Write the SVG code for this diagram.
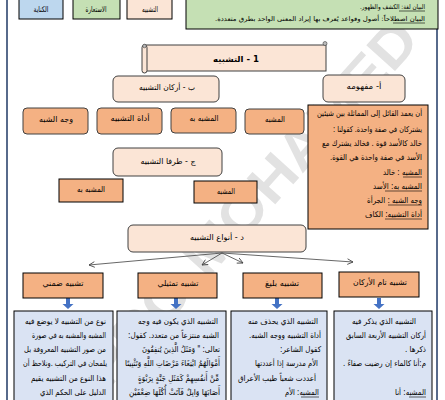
<svg xmlns="http://www.w3.org/2000/svg" width="445" height="400" viewBox="0 0 445 400">
<style>
.t{font-family:"DejaVu Sans","Noto Sans",sans-serif;font-size:8px;fill:#000}
.g{font-size:6.5px}
.pe{fill:#fbe5d6;stroke:#404040;stroke-width:1}
.or{fill:#f4b183;stroke:#404040;stroke-width:1}
.os{fill:#f4b183;stroke:#000;stroke-width:1}
.bl{fill:#dae3f3;stroke:#000;stroke-width:1}
.cn{stroke:#404040;stroke-width:0.8;fill:none}
.ba{fill:#4472c4}
.ul{stroke:#000;stroke-width:0.6}
</style>
<defs>
<marker id="ah" viewBox="0 0 10 10" refX="9" refY="5" markerWidth="7" markerHeight="7" orient="auto" markerUnits="userSpaceOnUse">
<path d="M1,1 L9,5 L1,9" fill="none" stroke="#404040" stroke-width="1.2"/>
</marker>
</defs>
<rect width="445" height="400" fill="#fff"/>
<text transform="translate(250,203) rotate(-48)" text-anchor="middle" dominant-baseline="central" font-family="Liberation Sans" font-weight="bold" font-size="56" fill="#d6d6d6" opacity="0.7" textLength="470" lengthAdjust="spacingAndGlyphs">PRO MOHAMED</text>
<line x1="7" y1="0" x2="7" y2="400" stroke="#1f3864" stroke-width="1.5"/>
<line x1="437" y1="0" x2="437" y2="400" stroke="#1f3864" stroke-width="1.5"/>

<g id="top-kinaya"><rect x="19" y="-1" width="44" height="20" fill="#bdd7ee" stroke="#000"/><text class="t" x="41" y="12" text-anchor="middle" direction="rtl" textLength="15" lengthAdjust="spacingAndGlyphs">الكناية</text></g>
<g id="top-istiara"><rect x="73" y="-1" width="47" height="20" fill="#c5e0b4" stroke="#000"/><text class="t" x="96" y="12" text-anchor="middle" direction="rtl" textLength="21" lengthAdjust="spacingAndGlyphs">الاستعارة</text></g>
<g id="top-tashbih"><rect x="127" y="-1" width="45" height="20" fill="#fbe5d6" stroke="#000"/><text class="t" x="150" y="12" text-anchor="middle" direction="rtl" textLength="16" lengthAdjust="spacingAndGlyphs">التشبيه</text></g>
<g id="bayan"><rect x="186" y="-1" width="252" height="30" fill="#c5e0b4" stroke="#000"/>
<text class="t g" x="425" y="9" direction="rtl" text-anchor="start" textLength="65" lengthAdjust="spacingAndGlyphs">البيان لغة: الكشف والظهور.</text>
<line class="ul" x1="399" y1="11" x2="425" y2="11"/>
<text class="t g" x="425" y="21" direction="rtl" text-anchor="start" textLength="210" lengthAdjust="spacingAndGlyphs">البيان اصطلاحاً: أصول وقواعد يُعرف بها إيراد المعنى الواحد بطرق متعددة.</text>
<line class="ul" x1="393" y1="23" x2="425" y2="23"/></g>

<g id="title">
<rect x="144" y="45" width="182" height="26" class="pe"/>
<rect x="142" y="45" width="5" height="28" rx="2.5" class="pe"/>
<circle cx="144.5" cy="46" r="1.8" fill="#bbb" stroke="#404040" stroke-width="0.6"/>
<circle cx="325" cy="43.5" r="2" fill="#bbb" stroke="#404040" stroke-width="0.6"/>
<text class="t" x="236" y="61.5" text-anchor="middle" direction="rtl" font-weight="bold" font-size="9.5" textLength="46" lengthAdjust="spacingAndGlyphs">1 - التشبيه</text></g>

<g id="mafhoom"><rect x="323" y="75" width="82" height="27" rx="5" class="pe"/><text class="t" x="364" y="89" text-anchor="middle" direction="rtl" textLength="35" lengthAdjust="spacingAndGlyphs">أ- مفهومه</text></g>
<g id="arkan"><rect x="113" y="76" width="106" height="26" rx="5" class="pe"/><text class="t" x="167" y="90" text-anchor="middle" direction="rtl" textLength="56" lengthAdjust="spacingAndGlyphs">ب - أركان التشبيه</text></g>

<g id="wajh"><rect x="23" y="108" width="65" height="26" rx="4" class="or"/><text class="t" x="56" y="122" text-anchor="middle" direction="rtl" textLength="34" lengthAdjust="spacingAndGlyphs">وجه الشبه</text></g>
<g id="adat"><rect x="97" y="108" width="65" height="26" rx="4" class="or"/><text class="t" x="130" y="121" text-anchor="middle" direction="rtl" textLength="39" lengthAdjust="spacingAndGlyphs">أداة التشبيه</text></g>
<g id="mushabbahbih"><rect x="171" y="108" width="65" height="25" rx="4" class="or"/><text class="t" x="204" y="121" text-anchor="middle" direction="rtl" textLength="29" lengthAdjust="spacingAndGlyphs">المشبه به</text></g>
<g id="mushabbah"><rect x="245" y="109" width="59" height="25" rx="4" class="or"/><text class="t" x="275" y="122" text-anchor="middle" direction="rtl" textLength="20" lengthAdjust="spacingAndGlyphs">المشبه</text></g>

<g id="definition"><rect x="308" y="105" width="120" height="124" class="os"/>
<text class="t" x="422" y="116" direction="rtl" text-anchor="start" textLength="105" lengthAdjust="spacingAndGlyphs">أن يعمد القائل إلى المماثلة بين شيئين</text>
<text class="t" x="422" y="132" direction="rtl" text-anchor="start" textLength="89" lengthAdjust="spacingAndGlyphs">يشتركان في صفة واحدة. كقولنا :</text>
<text class="t" x="422" y="146" direction="rtl" text-anchor="start" textLength="100" lengthAdjust="spacingAndGlyphs">خالد كالأسد قوة . فخالد يشترك مع</text>
<text class="t" x="422" y="160" direction="rtl" text-anchor="start" textLength="92" lengthAdjust="spacingAndGlyphs">الأسد في صفة واحدة هي القوة.</text>
<text class="t" x="422" y="175" direction="rtl" text-anchor="start" textLength="39" lengthAdjust="spacingAndGlyphs">المشبه : خالد</text>
<line class="ul" x1="403" y1="177" x2="422" y2="177"/>
<text class="t" x="422" y="189" direction="rtl" text-anchor="start" textLength="49" lengthAdjust="spacingAndGlyphs">المشبه به: الأسد</text>
<line class="ul" x1="385" y1="191" x2="422" y2="191"/>
<text class="t" x="422" y="203" direction="rtl" text-anchor="start" textLength="55" lengthAdjust="spacingAndGlyphs">وجه الشبه : الجرأة</text>
<line class="ul" x1="388" y1="205" x2="422" y2="205"/>
<text class="t" x="422" y="217" direction="rtl" text-anchor="start" textLength="57" lengthAdjust="spacingAndGlyphs">أداة التشبيه: الكاف</text>
<line class="ul" x1="385" y1="219" x2="422" y2="219"/></g>

<g id="tarafa"><rect x="113" y="148" width="109" height="28" rx="5" class="pe"/><text class="t" x="168" y="164" text-anchor="middle" direction="rtl" textLength="55" lengthAdjust="spacingAndGlyphs">ج - طرفا التشبيه</text></g>
<g id="taraf-bih"><rect x="59" y="179" width="64" height="23" class="os"/><text class="t" x="91" y="192" text-anchor="middle" direction="rtl" textLength="28" lengthAdjust="spacingAndGlyphs">المشبه به</text></g>
<g id="taraf-mushabbah"><rect x="194" y="181" width="63" height="22" class="os"/><text class="t" x="226" y="194" text-anchor="middle" direction="rtl" textLength="18" lengthAdjust="spacingAndGlyphs">المشبه</text></g>

<g id="anwaa"><rect x="128" y="225" width="178" height="27" rx="5" class="pe"/><text class="t" x="217" y="240" text-anchor="middle" direction="rtl" textLength="54" lengthAdjust="spacingAndGlyphs">د - أنواع التشبيه</text></g>

<g id="connectors">
<line class="cn" x1="222" y1="253" x2="89" y2="265" marker-end="url(#ah)"/>
<line class="cn" x1="222" y1="253" x2="202" y2="265" marker-end="url(#ah)"/>
<line class="cn" x1="222" y1="253" x2="243" y2="263" marker-end="url(#ah)"/>
<line class="cn" x1="222" y1="253" x2="353" y2="262" marker-end="url(#ah)"/>
<path class="ba" d="M66,298 h4 v6 h3.5 l-5.5,5 l-5.5,-5 h3.5 z"/>
<path class="ba" d="M174,298 h4 v6 h3.5 l-5.5,5 l-5.5,-5 h3.5 z"/>
<path class="ba" d="M275,298 h4 v6 h3.5 l-5.5,5 l-5.5,-5 h3.5 z"/>
<path class="ba" d="M377,298 h4 v6 h3.5 l-5.5,5 l-5.5,-5 h3.5 z"/>
</g>

<g id="dimni"><rect x="23" y="273" width="80" height="25" class="os"/><text class="t" x="63" y="286" text-anchor="middle" direction="rtl" textLength="41" lengthAdjust="spacingAndGlyphs">تشبيه ضمني</text></g>
<g id="tamthili"><rect x="138" y="273" width="79" height="25" class="os"/><text class="t" x="178" y="286" text-anchor="middle" direction="rtl" textLength="41" lengthAdjust="spacingAndGlyphs">تشبيه تمثيلي</text></g>
<g id="baligh"><rect x="243" y="273" width="79" height="25" class="os"/><text class="t" x="282" y="286" text-anchor="middle" direction="rtl" textLength="34" lengthAdjust="spacingAndGlyphs">تشبيه بليغ</text></g>
<g id="tam"><rect x="339" y="272" width="80" height="25" class="os"/><text class="t" x="380" y="285" text-anchor="middle" direction="rtl" textLength="54" lengthAdjust="spacingAndGlyphs">تشبيه تام الأركان</text></g>

<g id="dimni-text"><rect x="14" y="311" width="99" height="95" class="bl"/>
<text class="t" x="106" y="324" direction="rtl" text-anchor="start" textLength="81" lengthAdjust="spacingAndGlyphs">نوع من التشبيه لا يوضع فيه</text>
<text class="t" x="106" y="338" direction="rtl" text-anchor="start" textLength="74" lengthAdjust="spacingAndGlyphs">المشبه والمشبه به في صورة</text>
<text class="t" x="106" y="352" direction="rtl" text-anchor="start" textLength="82" lengthAdjust="spacingAndGlyphs">من صور التشبيه المعروفة بل</text>
<text class="t" x="107" y="366" direction="rtl" text-anchor="start" textLength="84" lengthAdjust="spacingAndGlyphs">يلمحان في التركيب .ونلاحظ أن</text>
<text class="t" x="106" y="381" direction="rtl" text-anchor="start" textLength="75" lengthAdjust="spacingAndGlyphs">هذا النوع من التشبيه يقيم</text>
<text class="t" x="106" y="395" direction="rtl" text-anchor="start" textLength="66" lengthAdjust="spacingAndGlyphs">الدليل على الحكم الذي</text></g>

<g id="tamthili-text"><rect x="117" y="311" width="109" height="95" class="bl"/>
<text class="t" x="218" y="324" direction="rtl" text-anchor="start" textLength="80" lengthAdjust="spacingAndGlyphs">التشبيه الذي يكون فيه وجه</text>
<text class="t" x="219" y="338" direction="rtl" text-anchor="start" textLength="91" lengthAdjust="spacingAndGlyphs">الشبه منتزعاً من متعدد. كقول:</text>
<text class="t" x="220" y="352" direction="rtl" text-anchor="start" textLength="78" lengthAdjust="spacingAndGlyphs">تعالى: " وَمَثَلُ الَّذِينَ يُنفِقُونَ</text>
<text class="t" x="220" y="366" direction="rtl" text-anchor="start" textLength="95" lengthAdjust="spacingAndGlyphs">أَمْوَالَهُمُ ابْتِغَاءَ مَرْضَاتِ اللَّهِ وَتَثْبِيتًا</text>
<text class="t" x="219" y="381" direction="rtl" text-anchor="start" textLength="81" lengthAdjust="spacingAndGlyphs">مِّنْ أَنفُسِهِمْ كَمَثَلِ جَنَّةٍ بِرَبْوَةٍ</text>
<text class="t" x="220" y="395" direction="rtl" text-anchor="start" textLength="91" lengthAdjust="spacingAndGlyphs">أَصَابَهَا وَابِلٌ فَآتَتْ أُكُلَهَا ضِعْفَيْنِ</text></g>

<g id="baligh-text"><rect x="231" y="311" width="96" height="95" class="bl"/>
<text class="t" x="318" y="324" direction="rtl" text-anchor="start" textLength="70" lengthAdjust="spacingAndGlyphs">التشبيه الذي يحذف منه</text>
<text class="t" x="321" y="338" direction="rtl" text-anchor="start" textLength="72" lengthAdjust="spacingAndGlyphs">أداة التشبيه ووجه الشبه.</text>
<text class="t" x="321" y="352" direction="rtl" text-anchor="start" textLength="41" lengthAdjust="spacingAndGlyphs">كقول الشاعر:</text>
<text class="t" x="318" y="366" direction="rtl" text-anchor="start" textLength="63" lengthAdjust="spacingAndGlyphs">الأم مدرسة إذا أعددتها</text>
<text class="t" x="316" y="381" direction="rtl" text-anchor="start" textLength="78" lengthAdjust="spacingAndGlyphs">أعددت شعباً طيب الأعراق</text>
<text class="t" x="319" y="395" direction="rtl" text-anchor="start" textLength="34" lengthAdjust="spacingAndGlyphs">المشبه: الأم</text>
<line class="ul" x1="301" y1="397" x2="319" y2="397"/></g>

<g id="tam-text"><rect x="334" y="311" width="98" height="95" class="bl"/>
<text class="t" x="416" y="324" direction="rtl" text-anchor="start" textLength="64" lengthAdjust="spacingAndGlyphs">التشبيه الذي يذكر فيه</text>
<text class="t" x="426" y="338" direction="rtl" text-anchor="start" textLength="80" lengthAdjust="spacingAndGlyphs">أركان التشبيه الأربعة السابق</text>
<text class="t" x="426" y="352" direction="rtl" text-anchor="start" textLength="21" lengthAdjust="spacingAndGlyphs">ذكرها .</text>
<text class="t" x="426" y="366" direction="rtl" text-anchor="start" textLength="83" lengthAdjust="spacingAndGlyphs">م:أنا كالماء إن رضيت صفاءً .</text>
<text class="t" x="426" y="395" direction="rtl" text-anchor="start" textLength="31" lengthAdjust="spacingAndGlyphs">المشبه: أنا</text>
<line class="ul" x1="409" y1="397" x2="426" y2="397"/></g>
</svg>
